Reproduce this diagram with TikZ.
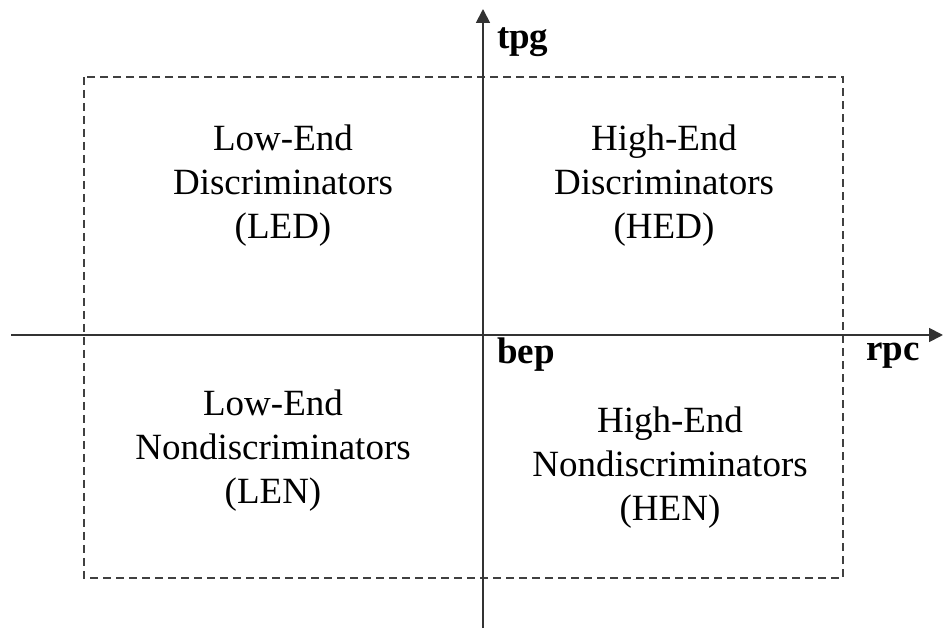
\documentclass[tikz,border=0pt]{standalone}
\usepackage{fontspec}
\setmainfont{Liberation Serif}
\usepackage{tikz}
\usetikzlibrary{arrows.meta}
\tikzset{
  quad/.style={align=center,font=\fontsize{18.5}{22}\selectfont},
  axlabel/.style={font=\fontsize{18.5}{20}\selectfont\bfseries},
  axis/.style={-{Triangle[length=7pt,width=7pt]},line width=0.9pt,black!80}
}

\begin{document}
\begin{tikzpicture}[x=0.5pt,y=-0.5pt]
    \useasboundingbox (0,0) rectangle (943,630);
    % dashed frame
    \draw[dashed,dash pattern=on 4pt off 2.5pt,line width=0.7pt,black!75] (84,77) rectangle (843,578);
    % axes
    \coordinate (xstart) at (11,335);
    \coordinate (xend) at (943,335);
    \coordinate (ystart) at (483,628);
    \coordinate (yend) at (483,9);
    \draw[axis] (xstart) -- (xend);
    \draw[axis] (ystart) -- (yend);
    % axis labels
    \node[axlabel,anchor=west] (tpg) at (490,42) {tpg};
    \node[axlabel,anchor=west] (rpc) at (859,356) {rpc};
    \node[axlabel,anchor=west] (bep) at (490,355) {bep};
    % quadrants
    \node[quad] (led) at (283,186) {Low-End\\Discriminators\\(LED)};
    \node[quad] (hed) at (664,186) {High-End\\Discriminators\\(HED)};
    \node[quad] (len) at (273,451) {Low-End\\Nondiscriminators\\(LEN)};
    \node[quad] (hen) at (670,468) {High-End\\Nondiscriminators\\(HEN)};
  \end{tikzpicture}
\end{document}
